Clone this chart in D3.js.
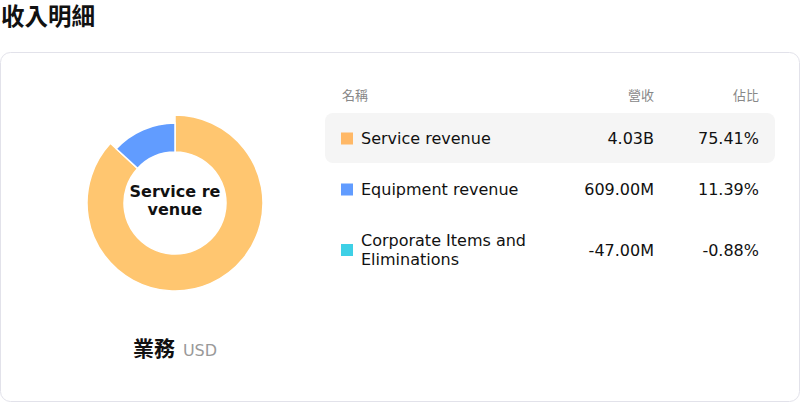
<!DOCTYPE html>
<html>
<head>
<meta charset="utf-8">
<script src="https://cdn.jsdelivr.net/npm/d3@7"></script>
<style>
  html, body { margin: 0; padding: 0; background: #fff; }
  svg { display: block; font-family: "DejaVu Sans", "Noto Sans CJK TC", sans-serif; }
</style>
</head>
<body>
<div id="chart"></div>
<script>
// data
var names = ["Service revenue", "Equipment revenue", "Corporate Items and Eliminations"];
var revenues = [4.03e9, 609.00e6, -47.00e6];
var shares = [75.41, 11.39, -0.88];
var colors = ["#ffc670", "#619cff", "#3ed0e6"];
var swatchColors = ["#ffb866", "#619cff", "#3ed0e6"];
var headers = ["名稱", "營收", "佔比"];
var title = "收入明細";
var centerLabel = "業務";
var unit = "USD";
var activeIndex = 0;

var W = 800, H = 402;
var svg = d3.select("#chart").append("svg")
  .attr("width", W)
  .attr("height", H);

// title
svg.append("text")
  .attr("x", 1)
  .attr("y", 25)
  .attr("font-size", "23.5px")
  .attr("font-weight", "bold")
  .attr("fill", "#111")
  .text(title);

// card
svg.append("rect")
  .attr("x", 0.5)
  .attr("y", 52.5)
  .attr("width", W - 1)
  .attr("height", H - 53)
  .attr("rx", 10)
  .attr("fill", "#fff")
  .attr("stroke", "#e2e2ea");

// donut
var cx = 175, cy = 203, rInner = 51, rOuter = 80, rActive = 88;
var pieData = names.map(function (n, i) {
  return { name: n, value: revenues[i], i: i };
}).filter(function (d) { return d.value > 0; });

var pie = d3.pie().sort(null).value(function (d) { return d.value; });
var arc = d3.arc().innerRadius(rInner);

var g = svg.append("g").attr("transform", "translate(" + cx + "," + cy + ")");
g.selectAll("path")
  .data(pie(pieData))
  .enter()
  .append("path")
  .attr("d", function (d) {
    return arc.outerRadius(d.data.i === activeIndex ? rActive : rOuter)(d);
  })
  .attr("fill", function (d) { return colors[d.data.i]; })
  .attr("stroke", "#fff")
  .attr("stroke-width", 1.5);

// center text (wrapped like the source)
var centerLines = ["Service re", "venue"];
g.selectAll("text.center")
  .data(centerLines)
  .enter()
  .append("text")
  .attr("class", "center")
  .attr("x", 0)
  .attr("y", function (d, i) { return -6 + i * 18; })
  .attr("text-anchor", "middle")
  .attr("font-size", "16px")
  .attr("font-weight", "bold")
  .attr("fill", "#111")
  .text(function (d) { return d; });

// label under donut
var lab = svg.append("text")
  .attr("x", 175)
  .attr("y", 356)
  .attr("text-anchor", "middle");
lab.append("tspan")
  .attr("font-size", "21px")
  .attr("font-weight", "bold")
  .attr("fill", "#111")
  .text(centerLabel);
lab.append("tspan")
  .attr("dx", 8)
  .attr("font-size", "16px")
  .attr("fill", "#999")
  .text(unit);

// table
var colName = 342, colRev = 654, colShare = 759;
svg.append("g").selectAll("text")
  .data(headers)
  .enter()
  .append("text")
  .attr("x", function (d, i) { return [colName, colRev, colShare][i]; })
  .attr("y", 100)
  .attr("text-anchor", function (d, i) { return i === 0 ? "start" : "end"; })
  .attr("font-size", "13px")
  .attr("fill", "#888")
  .text(function (d) { return d; });

var f2 = d3.formatLocale({ decimal: ".", thousands: ",", grouping: [3], currency: ["", ""], minus: "-" }).format(".2f");

function fmtRevenue(v) {
  var a = Math.abs(v);
  if (a >= 1e9) return f2(v / 1e9) + "B";
  return f2(v / 1e6) + "M";
}

function wrap(str, maxW) {
  var words = str.split(" "), lines = [], cur = "";
  var probe = svg.append("text").attr("font-size", "16px");
  words.forEach(function (w) {
    var t = cur ? cur + " " + w : w;
    probe.text(t);
    if (probe.node().getComputedTextLength() > maxW && cur) {
      lines.push(cur);
      cur = w;
    } else {
      cur = t;
    }
  });
  lines.push(cur);
  probe.remove();
  return lines;
}

var rowTop = 113, lineH = 19;
names.forEach(function (n, i) {
  var lines = wrap(n, 190);
  var h = 32 + lineH * lines.length;
  var mid = rowTop + h / 2;
  var row = svg.append("g");
  if (i === activeIndex) {
    row.append("rect")
      .attr("x", 325)
      .attr("y", rowTop)
      .attr("width", 450)
      .attr("height", h - 1)
      .attr("rx", 8)
      .attr("fill", "#f5f5f5");
  }
  row.append("rect")
    .attr("x", 341)
    .attr("y", mid - 6)
    .attr("width", 12)
    .attr("height", 12)
    .attr("fill", swatchColors[i]);
  row.selectAll("text.name")
    .data(lines)
    .enter()
    .append("text")
    .attr("class", "name")
    .attr("x", 361)
    .attr("y", function (d, k) { return mid + 5.5 + (k - (lines.length - 1) / 2) * lineH; })
    .attr("font-size", "16px")
    .attr("fill", "#111")
    .text(function (d) { return d; });
  row.append("text")
    .attr("x", colRev)
    .attr("y", mid + 5.5)
    .attr("text-anchor", "end")
    .attr("font-size", "16px")
    .attr("fill", "#111")
    .text(fmtRevenue(revenues[i]));
  row.append("text")
    .attr("x", colShare)
    .attr("y", mid + 5.5)
    .attr("text-anchor", "end")
    .attr("font-size", "16px")
    .attr("fill", "#111")
    .text(f2(shares[i]) + "%");
  rowTop += h;
});
</script>
</body>
</html>
